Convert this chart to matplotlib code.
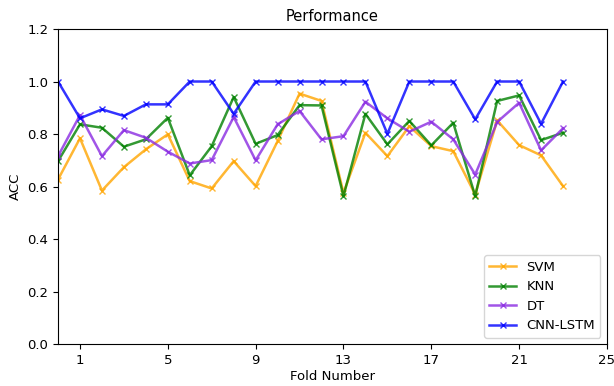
import numpy as np
import matplotlib
matplotlib.use('Agg')
import matplotlib.pyplot as plt

plt.rcParams['font.size'] = 9.5

folds = list(range(24))

svm = [0.627, 0.784, 0.585, 0.674, 0.742, 0.799, 0.621, 0.593, 0.697, 0.602,
       0.773, 0.954, 0.926, 0.576, 0.805, 0.716, 0.830, 0.754, 0.735, 0.570,
       0.852, 0.758, 0.719, 0.602]
knn = [0.697, 0.837, 0.824, 0.752, 0.780, 0.862, 0.643, 0.754, 0.941, 0.763,
       0.796, 0.910, 0.909, 0.564, 0.877, 0.761, 0.850, 0.757, 0.843, 0.564,
       0.926, 0.947, 0.777, 0.805]
dt = [0.716, 0.872, 0.716, 0.815, 0.786, 0.733, 0.688, 0.701, 0.865, 0.700,
      0.837, 0.888, 0.780, 0.792, 0.923, 0.860, 0.809, 0.847, 0.780, 0.646,
      0.846, 0.919, 0.738, 0.822]
cnn_lstm = [1.0, 0.860, 0.894, 0.869, 0.913, 0.913, 1.0, 1.0, 0.877, 1.0,
            1.0, 1.0, 1.0, 1.0, 1.0, 0.801, 1.0, 1.0, 1.0, 0.856,
            1.0, 1.0, 0.839, 1.0]

series = [
    ('SVM', svm, 'orange'),
    ('KNN', knn, 'green'),
    ('DT', dt, 'blueviolet'),
    ('CNN-LSTM', cnn_lstm, 'blue'),
]

fig = plt.figure(figsize=(6.14, 3.86), dpi=100)
ax = fig.add_axes([0.0945, 0.108, 0.894, 0.817])

for name, vals, color in series:
    ax.plot(folds, vals, marker='x', color=color, label=name,
            linewidth=1.8, markersize=5, alpha=0.8)

ax.set_xlim(0, 25)
ax.set_ylim(0, 1.2)
ax.set_xticks([1, 5, 9, 13, 17, 21, 25])
ax.set_yticks(np.arange(0, 1.21, 0.2))
ax.set_title('Performance', fontsize=10.5)
ax.set_xlabel('Fold Number', labelpad=2)
ax.set_ylabel('ACC')
ax.legend(loc='lower right')

fig.savefig('out.png', dpi=100)
